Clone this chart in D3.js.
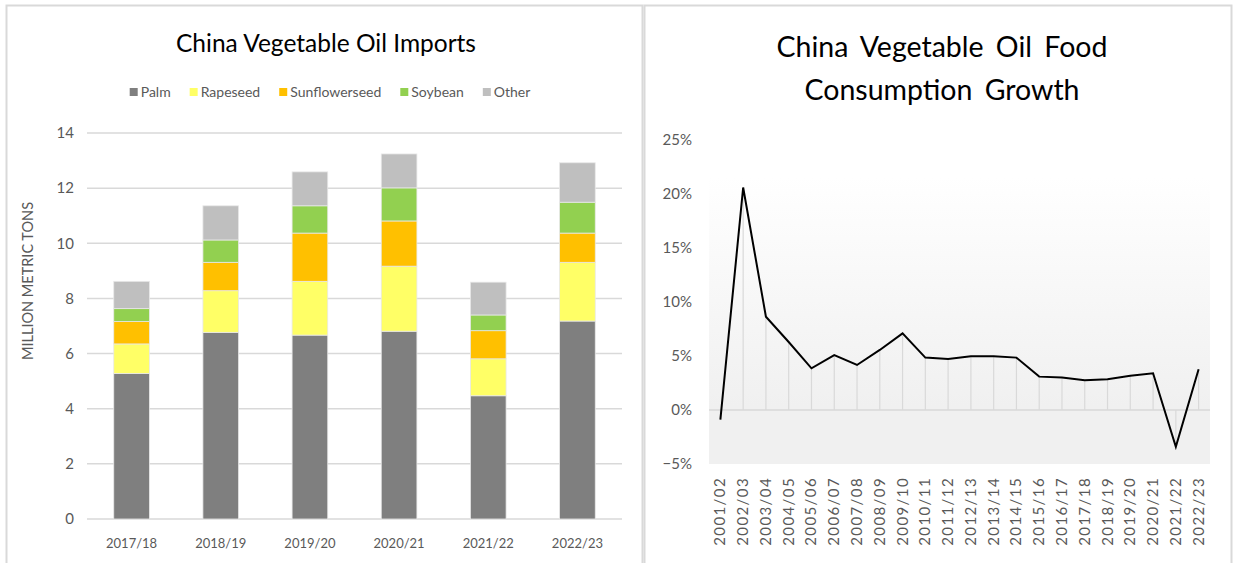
<!DOCTYPE html>
<html>
<head>
<meta charset="utf-8">
<script src="https://cdn.jsdelivr.net/npm/d3@7"></script>
<style>
  body { margin: 0; background: #fff; }
  svg { display: block; font-family: Lato, 'Open Sans', sans-serif; }
  .tick text { fill: #595959; }
</style>
</head>
<body>
<svg id="chart" width="1235" height="563"></svg>
<script>
'use strict';

// --- left chart data (million metric tons) ---
const marketYears = ['2017/18', '2018/19', '2019/20', '2020/21', '2021/22', '2022/23'];
const oilTypes = ['Palm', 'Rapeseed', 'Sunflowerseed', 'Soybean', 'Other'];
const palm = [5.28, 6.77, 6.67, 6.81, 4.47, 7.18];
const rapeseed = [1.07, 1.51, 1.95, 2.36, 1.34, 2.13];
const sunflowerseed = [0.81, 1.03, 1.75, 1.64, 1.02, 1.06];
const soybean = [0.47, 0.81, 0.99, 1.20, 0.57, 1.12];
const other = [0.99, 1.24, 1.23, 1.23, 1.19, 1.43];
const importTicks = [0, 2, 4, 6, 8, 10, 12, 14];

// --- right chart data (food consumption growth) ---
const growthYears = ['2001/02', '2002/03', '2003/04', '2004/05', '2005/06', '2006/07',
  '2007/08', '2008/09', '2009/10', '2010/11', '2011/12', '2012/13', '2013/14',
  '2014/15', '2015/16', '2016/17', '2017/18', '2018/19', '2019/20', '2020/21',
  '2021/22', '2022/23'];
const growth = [-0.009, 0.206, 0.0864, 0.063, 0.0386, 0.0509, 0.0417, 0.0556, 0.071,
  0.0485, 0.0472, 0.0497, 0.0497, 0.0485, 0.0309, 0.030, 0.0275, 0.0284, 0.0318,
  0.034, -0.034, 0.0377];
const growthTicks = [-0.05, 0, 0.05, 0.10, 0.15, 0.20, 0.25];

const colors = d3.scaleOrdinal()
  .domain(oilTypes)
  .range(['#7f7f7f', '#ffff66', '#ffc000', '#92d050', '#bfbfbf']);

const svg = d3.select('#chart');
const textGray = '#595959';
const gridGray = '#d9d9d9';

// panel frames
svg.append('rect')
  .attr('x', 6.5).attr('y', 5.5).attr('width', 636).attr('height', 570)
  .attr('fill', 'none').attr('stroke', gridGray).attr('stroke-width', 2);
svg.append('rect')
  .attr('x', 644.5).attr('y', 5.5).attr('width', 587).attr('height', 570)
  .attr('fill', 'none').attr('stroke', gridGray).attr('stroke-width', 2);

/**
 * Stacked bar chart of imports
 */
function drawImports() {
  const g = svg.append('g');
  const x = d3.scaleBand().domain(marketYears).range([87, 622])
    .paddingInner(0.6).paddingOuter(0.3);
  const y = d3.scaleLinear().domain([0, 14]).range([519, 133]);

  g.append('text')
    .attr('x', 326).attr('y', 52)
    .attr('text-anchor', 'middle')
    .attr('font-size', 24.5)
    .attr('fill', '#000')
    .text('China Vegetable Oil Imports');

  // gridlines
  g.selectAll('line.grid')
    .data(importTicks)
    .enter()
    .append('line')
    .attr('class', 'grid')
    .attr('x1', 87).attr('x2', 622)
    .attr('y1', (d) => y(d)).attr('y2', (d) => y(d))
    .attr('stroke', gridGray).attr('stroke-width', 1.5);

  const yAxis = g.append('g')
    .attr('transform', 'translate(74,0)')
    .call(d3.axisLeft(y).tickValues(importTicks).tickSize(0).tickPadding(0));
  yAxis.select('.domain').remove();
  yAxis.selectAll('text').attr('font-size', 15).attr('font-family', 'Lato');

  const xAxis = g.append('g')
    .attr('transform', 'translate(0,519)')
    .call(d3.axisBottom(x).tickSize(0).tickPadding(20));
  xAxis.select('.domain').remove();
  xAxis.selectAll('text').attr('font-size', 13).attr('font-family', 'Lato');

  g.append('text')
    .attr('transform', 'translate(33,281) rotate(-90)')
    .attr('text-anchor', 'middle')
    .attr('font-size', 14.5)
    .attr('fill', textGray)
    .text('MILLION METRIC TONS');

  const rows = marketYears.map(function(yr, i) {
    return {
      year: yr,
      Palm: palm[i],
      Rapeseed: rapeseed[i],
      Sunflowerseed: sunflowerseed[i],
      Soybean: soybean[i],
      Other: other[i]
    };
  });
  const stacked = d3.stack().keys(oilTypes)(rows);

  g.selectAll('g.layer')
    .data(stacked)
    .enter()
    .append('g')
    .attr('class', 'layer')
    .attr('fill', (d) => colors(d.key))
    .selectAll('rect')
    .data((d) => d)
    .enter()
    .append('rect')
    .attr('x', (d) => x(d.data.year))
    .attr('width', x.bandwidth())
    .attr('y', (d) => y(d[1]))
    .attr('height', (d) => y(d[0]) - y(d[1]))
    .attr('stroke', '#e8e8e8')
    .attr('stroke-width', 0.8);

  // legend, laid out left to right and centred
  const legend = g.append('g').attr('transform', 'translate(0,92)');
  const items = legend.selectAll('g.item')
    .data(oilTypes)
    .enter()
    .append('g')
    .attr('class', 'item');
  items.append('rect')
    .attr('width', 8).attr('height', 8).attr('y', -4)
    .attr('fill', (d) => colors(d));
  items.append('text')
    .attr('x', 11).attr('dy', '0.35em')
    .attr('font-size', 14)
    .attr('fill', textGray)
    .text((d) => d);
  let offset = 0;
  const widths = [];
  items.each(function() {
    const w = this.querySelector('text').getComputedTextLength() + 11;
    widths.push(w);
  });
  const gap = 19;
  const total = d3.sum(widths) + gap * (widths.length - 1);
  offset = 330 - total / 2;
  items.attr('transform', function(d, i) {
    const pos = offset;
    offset += widths[i] + gap;
    return 'translate(' + pos + ',0)';
  });
}

/**
 * Line chart of consumption growth
 */
function drawGrowth() {
  const g = svg.append('g');
  const x = d3.scaleBand().domain(growthYears).range([709, 1210]);
  const y = d3.scaleLinear().domain([-0.05, 0.25]).range([464, 140]);
  const cx = (d) => x(d) + x.bandwidth() / 2;

  const title = g.append('text')
    .attr('text-anchor', 'middle')
    .attr('font-size', 28.5)
    .attr('word-spacing', 5)
    .attr('fill', '#000');
  title.append('tspan').attr('x', 942).attr('y', 57).text('China Vegetable Oil Food');
  title.append('tspan').attr('x', 942).attr('y', 100).text('Consumption Growth');

  const defs = svg.append('defs');
  const grad = defs.append('linearGradient')
    .attr('id', 'plotFill')
    .attr('x1', 0).attr('y1', 0).attr('x2', 0).attr('y2', 1);
  grad.append('stop').attr('offset', 0).attr('stop-color', '#ffffff');
  grad.append('stop').attr('offset', 0.8).attr('stop-color', '#f0f0f0');
  grad.append('stop').attr('offset', 1).attr('stop-color', '#f0f0f0');

  g.append('rect')
    .attr('x', 709).attr('y', 177)
    .attr('width', 501).attr('height', y(-0.05) - 177)
    .attr('fill', 'url(#plotFill)');

  g.append('line')
    .attr('x1', 709).attr('x2', 1210)
    .attr('y1', y(0)).attr('y2', y(0))
    .attr('stroke', gridGray).attr('stroke-width', 1.5);

  // drop lines
  g.selectAll('line.drop')
    .data(growth)
    .enter()
    .append('line')
    .attr('class', 'drop')
    .attr('x1', (d, i) => cx(growthYears[i]))
    .attr('x2', (d, i) => cx(growthYears[i]))
    .attr('y1', (d) => y(d))
    .attr('y2', y(0))
    .attr('stroke', gridGray).attr('stroke-width', 1.2);

  const line = d3.line()
    .x((d, i) => cx(growthYears[i]))
    .y((d) => y(d));
  g.append('path')
    .datum(growth)
    .attr('d', line)
    .attr('fill', 'none')
    .attr('stroke', '#000')
    .attr('stroke-width', 2)
    .attr('stroke-linejoin', 'miter');

  const yAxis = g.append('g')
    .attr('transform', 'translate(692,0)')
    .call(d3.axisLeft(y).tickValues(growthTicks).tickSize(0).tickPadding(0)
      .tickFormat(d3.format('.0%')));
  yAxis.select('.domain').remove();
  yAxis.selectAll('text').attr('font-size', 15).attr('font-family', 'Lato');

  g.selectAll('text.xlab')
    .data(growthYears)
    .enter()
    .append('text')
    .attr('class', 'xlab')
    .attr('transform', (d) => 'translate(' + (cx(d) + 5) + ',477) rotate(-90)')
    .attr('text-anchor', 'end')
    .attr('font-size', 15)
    .attr('letter-spacing', 1.4)
    .attr('fill', textGray)
    .text((d) => d);
}

drawImports();
drawGrowth();
</script>
</body>
</html>
